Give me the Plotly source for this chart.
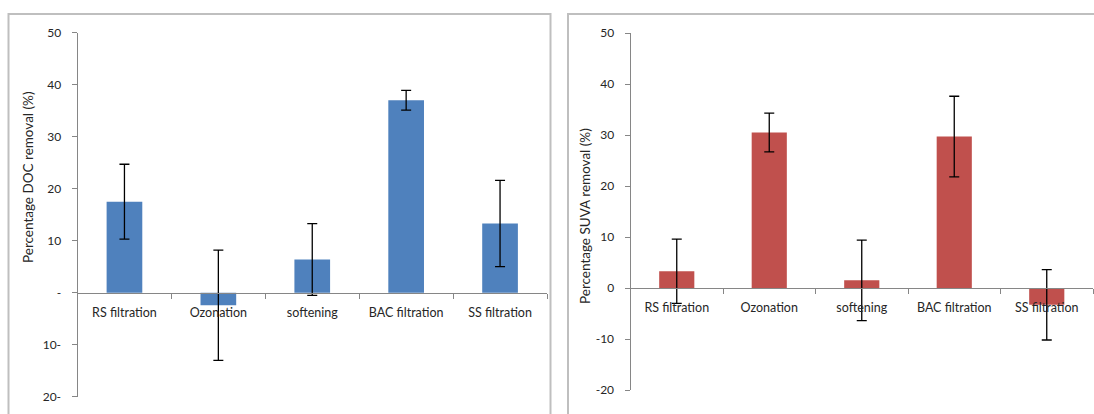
import plotly.graph_objects as go

categories = ["RS filtration", "Ozonation", "softening", "BAC filtration", "SS filtration"]
doc_values = [17.5, -2.4, 6.4, 37.0, 13.3]
doc_errors = [7.2, 10.6, 6.9, 1.9, 8.3]
suva_values = [3.3, 30.5, 1.5, 29.7, -3.3]
suva_errors = [6.3, 3.8, 7.9, 7.9, 6.9]

yticks = [50, 40, 30, 20, 10, 0, -10, -20]
doc_ticktext = ["50", "40", "30", "20", "10", "-", "10-", "20-"]
suva_ticktext = ["50", "40", "30", "20", "10", "0", "-10", "-20"]
doc_title = "Percentage DOC removal (%)"
suva_title = "Percentage SUVA removal (%)"

W, H = 1094, 414
def px(x):
    return x / W
def py(y):
    return (H - y) / H

font = dict(family="Lato, 'Open Sans', sans-serif", size=12, color="#262626")
xfont = dict(family="Lato, 'Open Sans', sans-serif", size=12.5, color="#262626")
tfont = dict(family="Lato, 'Open Sans', sans-serif", size=13.5, color="#262626")
xpos = list(range(len(categories)))

fig = go.Figure()
fig.add_trace(go.Bar(
    x=xpos, y=doc_values, marker=dict(color="#4F81BD", line=dict(width=0)),
    error_y=dict(type="data", array=doc_errors, visible=True, color="#000000", thickness=1.3, width=5),
    xaxis="x", yaxis="y", showlegend=False))
fig.add_trace(go.Bar(
    x=xpos, y=suva_values, marker=dict(color="#C0504D", line=dict(width=0)),
    error_y=dict(type="data", array=suva_errors, visible=True, color="#000000", thickness=1.3, width=5),
    xaxis="x2", yaxis="y2", showlegend=False))

axis_grey = "#868686"

def xaxis(domain, ypos):
    return dict(domain=domain, anchor="free", position=ypos, range=[-0.5, 4.5],
                tickmode="array", tickvals=xpos, ticktext=categories, ticks="",
                ticklabelstandoff=8, automargin=False,
                showline=True, linecolor=axis_grey, linewidth=1, showgrid=False,
                zeroline=False, tickfont=xfont, fixedrange=True,
                minor=dict(tickmode="array", tickvals=[-0.5, 0.5, 1.5, 2.5, 3.5, 4.5],
                           ticks="outside", ticklen=5, tickcolor=axis_grey, showgrid=False))

def yaxis(domain, xanchor, ticktext):
    return dict(domain=domain, anchor=xanchor, range=[-20, 50], tickmode="array",
                tickvals=yticks, ticktext=ticktext, ticks="outside", ticklen=5,
                ticklabelstandoff=8, automargin=False,
                tickcolor=axis_grey, showline=True, linecolor=axis_grey, linewidth=1,
                showgrid=False, zeroline=False, tickfont=font, fixedrange=True)

fig.update_layout(
    width=W, height=H, margin=dict(l=0, r=0, t=0, b=0, autoexpand=False),
    paper_bgcolor="white", plot_bgcolor="rgba(0,0,0,0)",
    bargap=0.62, font=font,
    xaxis=xaxis([px(77.5), px(547)], py(293.3)),
    yaxis=yaxis([py(396.7), py(32.7)], "x", doc_ticktext),
    xaxis2=xaxis([px(630.5), px(1093)], py(288)),
    yaxis2=yaxis([py(390), py(33)], "x2", suva_ticktext),
    annotations=[
        dict(text=doc_title, xref="paper", yref="paper", x=px(28), y=py(177),
             xanchor="center", yanchor="middle", textangle=-90, showarrow=False, font=tfont),
        dict(text=suva_title, xref="paper", yref="paper", x=px(585), y=py(216),
             xanchor="center", yanchor="middle", textangle=-90, showarrow=False, font=tfont),
    ],
    shapes=[
        dict(type="rect", xref="paper", yref="paper", x0=px(8.5), x1=px(550.5), y0=-0.1, y1=py(14),
             line=dict(color="#BFBFBF", width=2), layer="below"),
        dict(type="rect", xref="paper", yref="paper", x0=px(568), x1=1.05, y0=-0.1, y1=py(14),
             line=dict(color="#BFBFBF", width=2), layer="below"),
    ],
)
fig.write_html("out.html", config={"displayModeBar": False},
               post_script="document.body.style.margin='0';document.body.style.overflow='hidden';")
